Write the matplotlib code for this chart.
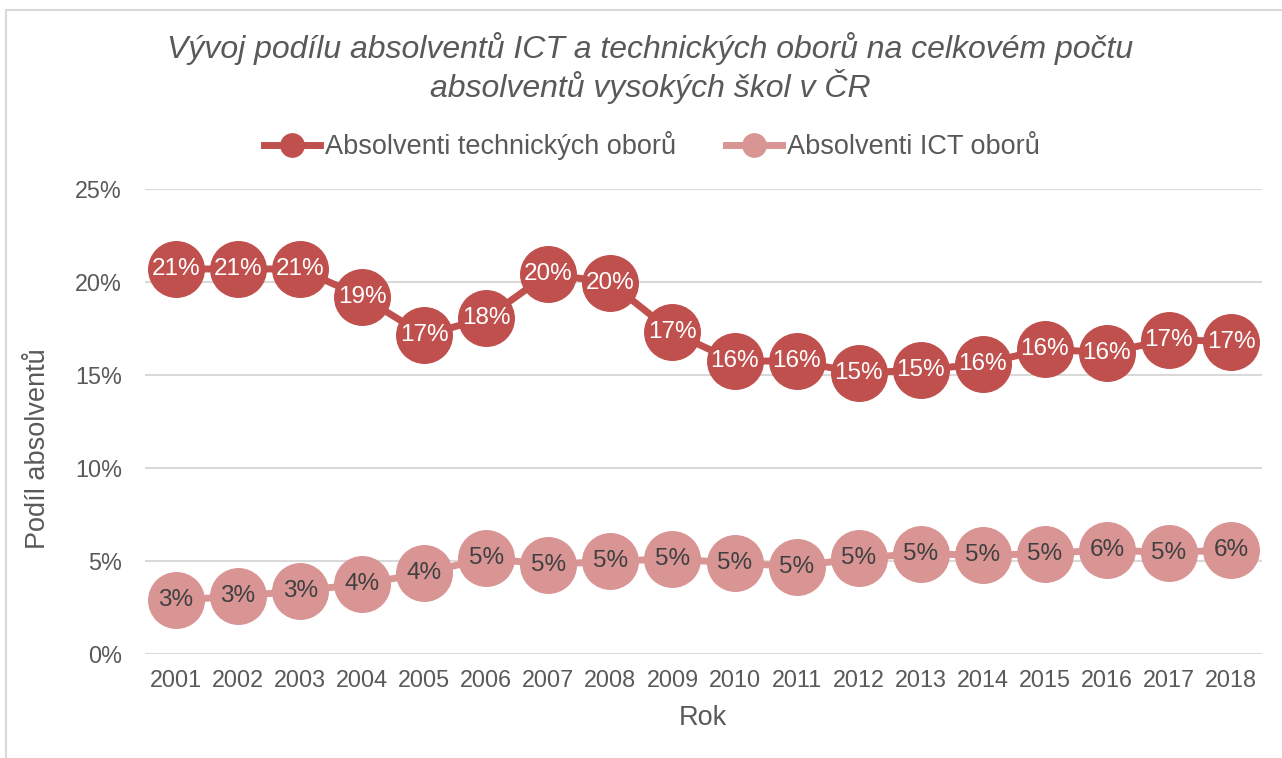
import matplotlib.pyplot as plt
from matplotlib.patches import Rectangle
from matplotlib.ticker import FuncFormatter

plt.rcParams['font.family'] = ['Liberation Sans', 'DejaVu Sans']

# ===== DATA =====
years = [2001, 2002, 2003, 2004, 2005, 2006, 2007, 2008, 2009,
         2010, 2011, 2012, 2013, 2014, 2015, 2016, 2017, 2018]
tech = [20.7, 20.7, 20.7, 19.2, 17.15, 18.06, 20.45, 19.95, 17.3,
        15.75, 15.75, 15.1, 15.27, 15.6, 16.4, 16.2, 16.9, 16.8]
ict = [2.9, 3.1, 3.4, 3.76, 4.35, 5.16, 4.8, 5.0, 5.1,
       4.9, 4.7, 5.16, 5.4, 5.3, 5.4, 5.6, 5.45, 5.6]
yticks = [0, 5, 10, 15, 20, 25]

title = "Vývoj podílu absolventů ICT a technických oborů na celkovém počtu\nabsolventů vysokých škol v ČR"
techName = "Absolventi technických oborů"
ictName = "Absolventi ICT oborů"

techColor = "#C0504D"
ictColor = "#D99594"
textColor = "#595959"

W, H = 1282, 758
fig = plt.figure(figsize=(W / 100, H / 100), dpi=100)

# rámeček grafu (vpravo a dole oříznutý)
fig.patches.append(Rectangle((6 / W, -0.1), 1.2, 1 - 10 / H + 0.1,
                             transform=fig.transFigure, fill=False,
                             edgecolor="#D9D9D9", linewidth=1.5))

ax = fig.add_axes([145 / W, (H - 654) / H, 1117 / W, 465 / H])
x = list(range(len(years)))

ax.plot(x, tech, "-o", color=techColor, linewidth=5, markersize=40,
        label=techName, zorder=3)
ax.plot(x, ict, "-o", color=ictColor, linewidth=5, markersize=40,
        label=ictName, zorder=3)

for i in x:
    ax.text(i, tech[i], f"{round(tech[i])}%", ha="center", va="center",
            fontsize=17.5, color="white", zorder=4)
    ax.text(i, ict[i], f"{round(ict[i])}%", ha="center", va="center",
            fontsize=17.5, color="#404040", zorder=4)

ax.set_xlim(-0.5, len(years) - 0.5)
ax.set_ylim(0, 25)
ax.set_xticks(x)
ax.set_xticklabels([str(y) for y in years])
ax.set_yticks(yticks)
ax.yaxis.set_major_formatter(FuncFormatter(lambda v, p: f"{v:.0f}%"))
ax.tick_params(length=0, labelsize=16.8, labelcolor=textColor)
ax.tick_params(axis="x", pad=11)
ax.tick_params(axis="y", pad=16.5)
ax.grid(axis="y", color="#D9D9D9", linewidth=1.5)
ax.set_axisbelow(True)
for s in ax.spines.values():
    s.set_visible(False)

fig.text(650 / W, 1 - 68 / H, title, ha="center", va="center",
         fontsize=23, style="italic", color=textColor, linespacing=1.15)
fig.text(38 / W, 1 - 449 / H, "Podíl absolventů", rotation=90,
         ha="center", va="center", fontsize=19.5, color=textColor)
fig.text(703 / W, 1 - 718 / H, "Rok", ha="center", va="center",
         fontsize=19.5, color=textColor)

leg = fig.legend(loc="center", bbox_to_anchor=(652 / W, 1 - 146 / H), ncol=2,
                 frameon=False, fontsize=19.5, markerscale=0.42,
                 handlelength=2.05, handletextpad=0.2, columnspacing=1.85)
for t in leg.get_texts():
    t.set_color(textColor)

plt.savefig("out.png", dpi=100)
